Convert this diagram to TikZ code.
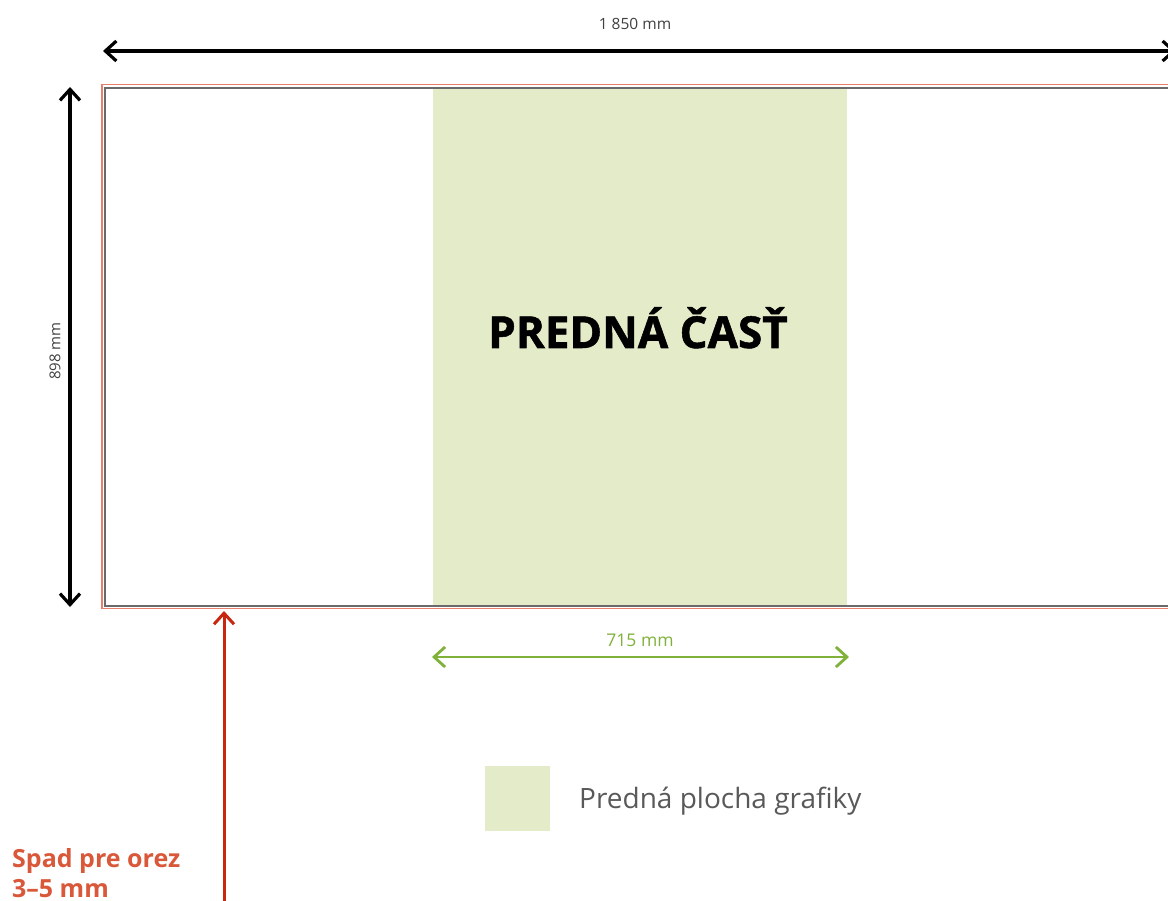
\documentclass[tikz,border=0pt]{standalone}
\usepackage{fontspec}
\setmainfont{Open Sans}
\newfontfamily\heavyfont{Open Sans}[BoldFeatures={FakeBold=1.2}]
\usetikzlibrary{arrows.meta}
\definecolor{frontfill}{HTML}{E3EBC8}
\definecolor{bleedred}{HTML}{E8806E}
\definecolor{trimgray}{HTML}{6A6A6A}
\definecolor{dimgreen}{HTML}{7FB13B}
\definecolor{arrowred}{HTML}{C8260E}
\definecolor{labelred}{HTML}{D9583A}
\definecolor{textgray}{HTML}{595959}
\tikzset{
  barb/.tip={Straight Barb[length=11pt,width=20pt]},
  dimline/.style={line width=3.2pt,{barb}-{barb}},
  greendim/.style={line width=2.8pt,draw=dimgreen,{barb}-{barb}},
  bleedarrow/.style={line width=3pt,draw=arrowred,-{barb}},
  dimlabel/.style={font=\fontsize{15.5}{18}\selectfont,text=black!75,inner sep=0pt},
}
\begin{document}
\begin{tikzpicture}[x=1pt,y=-1pt]
\useasboundingbox (0,0) rectangle (1168,901);
\clip (0,0) rectangle (1168,901);
% front area
\fill[frontfill] (433,89) rectangle (847,606);
% bleed and trim outlines
\draw[bleedred,line width=1.9pt] (102,84.5) rectangle (1190,608.5);
\draw[trimgray,line width=2.2pt] (105.3,88) rectangle (1190,606);
% coordinates
\coordinate (tl) at (103,51);
\coordinate (tr) at (1176,51);
\coordinate (vt) at (70,87);
\coordinate (vb) at (70,607);
\coordinate (gl) at (432,657);
\coordinate (gr) at (849,657);
\coordinate (rb) at (224,905);
\coordinate (rt) at (224,611);
% dimension arrows
\draw[dimline] (tl) -- (tr);
\draw[dimline] (vt) -- (vb);
\draw[greendim] (gl) -- (gr);
\draw[bleedarrow] (rb) -- (rt);
% labels
\node[dimlabel] (wlab) at (635,24) {1 850 mm};
\node[dimlabel,rotate=90,font=\fontsize{15}{17}\selectfont] (hlab) at (55,351) {898 mm};
\node[dimlabel,text=dimgreen,font=\fontsize{17.5}{20}\selectfont] (glab) at (640,640) {715 mm};
\node[anchor=base,font=\heavyfont\bfseries\fontsize{44}{50}\selectfont,inner sep=0pt] (title) at (638,348) {PREDNÁ ČASŤ};
% legend
\fill[frontfill] (485,766) rectangle (550,831);
\node[anchor=west,text=textgray,font=\fontsize{28}{32}\selectfont,inner sep=0pt] (leg) at (579,801) {Predná plocha grafiky};
% bleed label
\node[anchor=base west,text=labelred,font=\bfseries\fontsize{25}{30}\selectfont,inner sep=0pt] (sp1) at (12,867) {Spad pre orez};
\node[anchor=base west,text=labelred,font=\bfseries\fontsize{25}{30}\selectfont,inner sep=0pt] (sp2) at (12,897) {3–5 mm};
\end{tikzpicture}
\end{document}
